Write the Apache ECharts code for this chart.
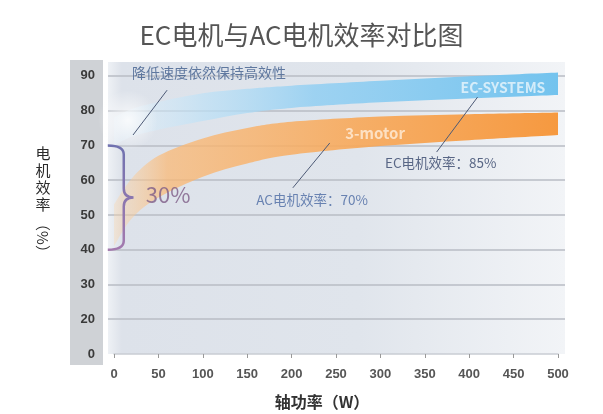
<!DOCTYPE html>
<html><head><meta charset="utf-8">
<script src="https://cdn.jsdelivr.net/npm/echarts@6/dist/echarts.min.js"></script>
<style>html,body{margin:0;padding:0;background:#fff}#c{width:603px;height:414px}</style>
</head><body><div id="c"></div>
<script>
// ---- data ----
const xPower  = [0, 20, 50, 100, 150, 200, 300, 400, 500];
const ecUpper = [78, 80.5, 82.5, 85, 86.3, 87.2, 88.6, 89.9, 91];
const ecLower = [70, 72.5, 74.5, 77, 79.3, 80.8, 82.4, 83.5, 84.5];
const acUpper = [53, 60.5, 67, 72, 75, 76.8, 78.3, 79, 79.5];
const acLower = [41, 49, 55, 61, 64.8, 67.3, 69.8, 71.5, 73];
const yTickValues = [10, 20, 30, 40, 50, 60, 70, 80, 90];
const yTickLabels = ['0', '20', '30', '40', '50', '60', '70', '80', '90'];
const annTexts = ['降低速度依然保持高效性', 'EC电机效率：85%', 'AC电机效率：70%', '30%', 'EC-SYSTEMS', '3-motor'];
const annX = [107, 368, 223, 61, 438, 294];
const annY = [91, 64.9, 54.3, 55.7, 86.6, 73.6];
const leaderLines = [
  [[59.8, 85.9], [21.4, 73.0]],
  [[409.4, 83.9], [363.3, 68.1]],
  [[243, 70.7], [201.4, 57.8]]
];
const braceRange = [40, 70];     // the 30% gap
const braceX = [-7, 11, 22];     // end, spine, tip (x data units)

// ---- styles ----
const annStyles = [
  {color: '#3f5d8c', fontSize: 14},
  {color: '#34456a', fontSize: 13.5},
  {color: '#4a69a3', fontSize: 13.5},
  {color: '#7e5d87', fontSize: 22},
  {color: 'rgba(240,248,253,0.95)', fontSize: 14, fontWeight: 'bold'},
  {color: 'rgba(255,240,225,0.95)', fontSize: 15, fontWeight: 'bold'}
];

const chart = echarts.init(document.getElementById('c'));
const G = echarts.graphic;
const TOP = 62, BOTTOM = 60;
const font = '"Noto Sans CJK SC", "Noto Sans", sans-serif';

// Catmull-Rom spline through pixel points as bezier path commands (continuing from pts[0])
function splinePath(pts) {
  let d = '';
  for (let i = 0; i < pts.length - 1; i++) {
    const p0 = pts[Math.max(i - 1, 0)], p1 = pts[i], p2 = pts[i + 1], p3 = pts[Math.min(i + 2, pts.length - 1)];
    const c1 = [p1[0] + (p2[0] - p0[0]) / 6, p1[1] + (p2[1] - p0[1]) / 6];
    const c2 = [p2[0] - (p3[0] - p1[0]) / 6, p2[1] - (p3[1] - p1[1]) / 6];
    d += ` C${c1[0]},${c1[1]} ${c2[0]},${c2[1]} ${p2[0]},${p2[1]}`;
  }
  return d;
}
function bandSeries(upper, lower, fill) {
  return {
    type: 'custom', xAxisIndex: 1, yAxisIndex: 1, silent: true, clip: false, z: 2, data: [[0]],
    renderItem: (params, api) => {
      const up = xPower.map((x, i) => api.coord([x, upper[i]]));
      const lo = xPower.map((x, i) => api.coord([x, lower[i]])).reverse();
      const d = `M${up[0][0]},${up[0][1]}` + splinePath(up) + ` L${lo[0][0]},${lo[0][1]}` + splinePath(lo) + ' Z';
      return {type: 'path', shape: {pathData: d}, style: {fill: fill, stroke: 'none'}};
    }
  };
}

chart.setOption({
  animation: false,
  textStyle: {fontFamily: font},
  title: {
    text: 'EC电机与AC电机效率对比图', left: 'center', top: 17,
    textStyle: {fontSize: 26, fontWeight: 'normal', color: '#555', fontFamily: font}
  },
  grid: [
    {left: 108, right: 38, top: TOP, bottom: BOTTOM, show: true, borderWidth: 0,
     backgroundColor: new G.LinearGradient(0, 0, 1, 0, [
       {offset: 0, color: '#eef1f5'}, {offset: 0.03, color: '#dde2ea'},
       {offset: 0.55, color: '#e0e5ec'}, {offset: 1, color: '#f2f4f7'}])},
    {left: 114, right: 45, top: TOP, bottom: BOTTOM}
  ],
  xAxis: [
    {gridIndex: 0, type: 'value', min: 0, max: 1, show: false},
    {gridIndex: 1, type: 'value', min: 0, max: 500, interval: 50,
     axisLine: {lineStyle: {color: '#c9cdd3', width: 1.5}},
     axisTick: {length: 4, lineStyle: {color: '#999'}},
     axisLabel: {margin: 14, color: '#555', fontSize: 13, fontWeight: 'bold', fontFamily: 'Liberation Sans, Arial, sans-serif'},
     splitLine: {show: false}}
  ],
  yAxis: [
    {gridIndex: 0, type: 'value', min: 10, max: 94, interval: 10,
     axisLine: {show: false}, axisTick: {show: false}, axisLabel: {show: false},
     splitLine: {show: true, showMaxLine: false, showMinLine: false, lineStyle: {color: '#b8bdc5', width: 1.5}}},
    {gridIndex: 1, type: 'value', min: 10, max: 94, interval: 10,
     axisLine: {show: false}, axisTick: {show: false}, splitLine: {show: false},
     axisLabel: {margin: 19, color: '#3a3a3a', fontSize: 13, fontWeight: 'bold', fontFamily: 'Liberation Sans, Arial, sans-serif',
       formatter: v => { const i = yTickValues.indexOf(v); return i >= 0 ? yTickLabels[i] : ''; }}}
  ],
  graphic: [
    {type: 'rect', z: -1, x: 70, y: 60, shape: {width: 33, height: 305}, style: {fill: '#cfd2d6'}},
    {type: 'text', x: 43, y: 145, style: {text: '电\n机\n效\n率', fontSize: 15, fontFamily: font, fill: '#2a2a2a', align: 'center', verticalAlign: 'top', lineHeight: 17}},
    {type: 'text', x: 43, y: 238, rotation: -Math.PI / 2, style: {text: '（%）', fontSize: 15, fontFamily: font, fill: '#2a2a2a', align: 'center', verticalAlign: 'middle'}},
    {type: 'text', x: 322, y: 402, style: {text: '轴功率（W）', fontSize: 16, fontWeight: 'bold', fontFamily: font, fill: '#333', align: 'center', verticalAlign: 'middle'}},
    {type: 'circle', z: 3, shape: {cx: 128, cy: 120, r: 30},
     style: {fill: new G.RadialGradient(0.5, 0.5, 0.5, [{offset: 0, color: 'rgba(255,255,255,0.8)'}, {offset: 1, color: 'rgba(255,255,255,0)'}])}}
  ],
  series: [
    bandSeries(ecUpper, ecLower, new G.LinearGradient(0, 0, 1, 0, [
       {offset: 0, color: 'rgba(230,243,252,0.35)'}, {offset: 0.2, color: 'rgba(190,225,246,0.7)'},
       {offset: 0.45, color: 'rgba(150,208,242,0.9)'}, {offset: 1, color: 'rgba(115,195,238,1)'}])),
    bandSeries(acUpper, acLower, new G.LinearGradient(0, 0, 1, 0, [
       {offset: 0, color: 'rgba(252,214,170,0.35)'}, {offset: 0.12, color: 'rgba(250,185,118,0.75)'},
       {offset: 0.55, color: 'rgba(248,168,88,0.9)'}, {offset: 1, color: 'rgba(246,150,58,0.97)'}])),
    {type: 'lines', coordinateSystem: 'cartesian2d', xAxisIndex: 1, yAxisIndex: 1, z: 5, silent: true,
     lineStyle: {color: '#4d5a76', width: 1, opacity: 1},
     data: leaderLines.map(c => ({coords: c}))},
    {type: 'custom', xAxisIndex: 1, yAxisIndex: 1, z: 5, clip: false, silent: true, data: [[0]],
     renderItem: (params, api) => {
       const yt = api.coord([0, braceRange[1]])[1];
       const yb = api.coord([0, braceRange[0]])[1];
       const ym = (yt + yb) / 2;
       const xl = api.coord([braceX[0], 0])[0];
       const xv = api.coord([braceX[1], 0])[0];
       const xt = api.coord([braceX[2], 0])[0];
       const r = 9;
       const d = `M${xl},${yt} Q${xv},${yt} ${xv},${yt + r} L${xv},${ym - r} Q${xv},${ym} ${xt},${ym} ` +
                 `Q${xv},${ym} ${xv},${ym + r} L${xv},${yb - r} Q${xv},${yb} ${xl},${yb}`;
       return {type: 'path', shape: {pathData: d},
         style: {fill: 'none', lineWidth: 2.5,
           stroke: new G.LinearGradient(0, 0, 0, 1, [{offset: 0, color: '#6f72b0'}, {offset: 1, color: '#a57aae'}])}};
     }},
    {type: 'scatter', xAxisIndex: 1, yAxisIndex: 1, z: 6, silent: true, symbolSize: 1,
     itemStyle: {color: 'rgba(0,0,0,0)'},
     data: annTexts.map((t, i) => ({
       value: [annX[i], annY[i]],
       label: Object.assign({show: true, position: 'inside', formatter: t, fontFamily: font}, annStyles[i])
     }))}
  ]
});
</script>
</body></html>
